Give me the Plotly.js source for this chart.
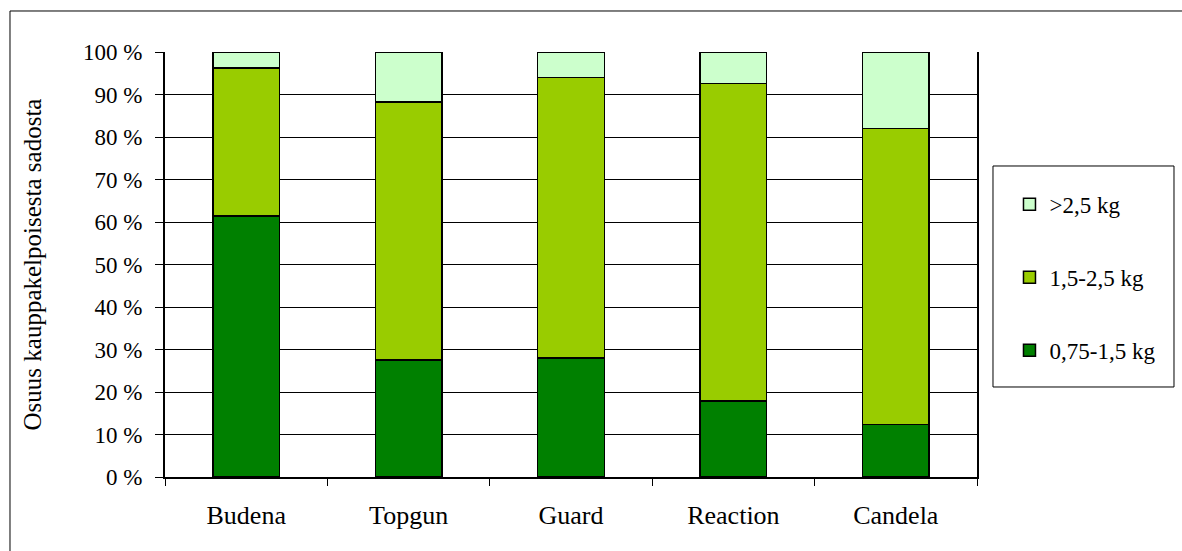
<!DOCTYPE html>
<html>
<head>
<meta charset="utf-8">
<script src="https://cdn.plot.ly/plotly-3.0.1.min.js"></script>
<style>html,body{margin:0;padding:0;background:#fff;}#chart{width:1182px;height:551px;}</style>
</head>
<body>
<div id="chart"></div>
<script>
const categories = ["Budena", "Topgun", "Guard", "Reaction", "Candela"];
const seriesNames = ["0,75-1,5 kg", "1,5-2,5 kg", ">2,5 kg"];
const small = [61.4, 27.5, 28.0, 17.9, 12.4];
const medium = [34.8, 60.7, 66.0, 74.7, 69.6];
const large = [3.8, 11.8, 6.0, 7.4, 18.0];
const colors = ["#008000", "#99CC00", "#CCFFCC"];
const yTitle = "Osuus kauppakelpoisesta sadosta";

const FONT = '"Liberation Serif", "Times New Roman", serif';
const values = [small, medium, large];
const traces = values.map((v, i) => ({
  type: "bar",
  x: categories,
  y: v,
  name: seriesNames[i],
  legendgroup: "g" + i,
  legendrank: 3 - i,
  marker: {color: colors[i], line: {color: "#000", width: 1.5}},
  hoverinfo: "x+y+name"
}));

const layout = {
  width: 1182, height: 551,
  margin: {l: 165, r: 205, t: 52, b: 74},
  paper_bgcolor: "#fff", plot_bgcolor: "#fff",
  barmode: "stack",
  bargap: 0.59,
  font: {family: FONT, size: 23, color: "#000"},
  showlegend: true,
  legend: {
    x: 1.04, y: 0.692, xanchor: "left", yanchor: "top",
    traceorder: "grouped",
    tracegroupgap: 40,
    bgcolor: "rgba(0,0,0,0)",
    borderwidth: 0,
    font: {family: FONT, size: 23, color: "#000"}
  },
  xaxis: {
    type: "category",
    showline: true, linecolor: "#000", linewidth: 2,
    ticks: "outside", tickson: "boundaries", ticklen: 7, tickcolor: "#000", tickwidth: 1,
    ticklabelstandoff: 14,
    showgrid: false, zeroline: false,
    tickfont: {family: FONT, size: 26, color: "#000"}
  },
  yaxis: {
    range: [0, 100], dtick: 10, tick0: 0,
    ticksuffix: " %",
    showline: true, linecolor: "#000", linewidth: 2, mirror: true,
    ticks: "outside", ticklen: 8, tickcolor: "#000", tickwidth: 1,
    ticklabelstandoff: 8,
    showgrid: true, gridcolor: "#000", gridwidth: 1,
    zeroline: false,
    tickfont: {family: FONT, size: 23, color: "#000"},
    title: {text: yTitle, font: {family: FONT, size: 25, color: "#000"}, standoff: 34}
  },
  shapes: [
    {type: "rect", xref: "paper", yref: "paper", x0: 1.0197, x1: 1.2426, y0: 0.2118, y1: 0.7318,
     line: {color: "#000", width: 1}, fillcolor: "rgba(0,0,0,0)"},
    {type: "line", xref: "paper", yref: "paper", x0: -0.1909, x1: -0.1909, y0: -0.3, y1: 1.0965,
     line: {color: "#000", width: 1}},
    {type: "line", xref: "paper", yref: "paper", x0: -0.1909, x1: 1.5, y0: 1.0965, y1: 1.0965,
     line: {color: "#000", width: 1}}
  ]
};

Plotly.newPlot("chart", traces, layout, {displayModeBar: false, staticPlot: true});
</script>
</body>
</html>
